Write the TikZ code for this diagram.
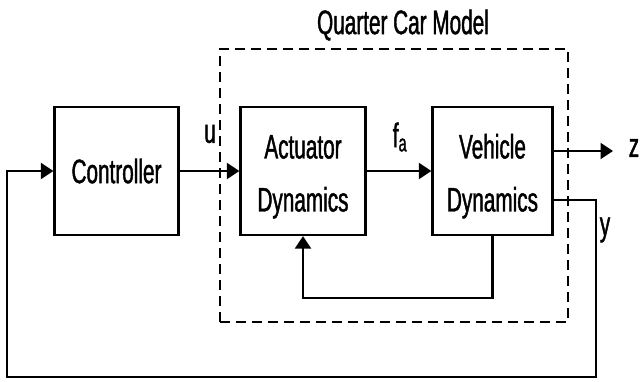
\documentclass[tikz,border=0pt]{standalone}
\usepackage{fontspec}
\setmainfont{Liberation Sans}[FakeStretch=0.61,FakeBold=1.2]
\usetikzlibrary{arrows.meta}
\begin{document}
\begin{tikzpicture}[x=1pt,y=-1pt,
  every node/.style={font=\fontsize{34}{38}\selectfont},
  blockbox/.style={draw,line width=2.2pt,minimum width=#1,minimum height=128pt,align=center,inner sep=0pt},
  qcmbox/.style={draw,dashed,dash pattern=on 10pt off 6pt,line width=1.6pt,minimum width=348pt,minimum height=273pt,inner sep=0pt},
  wire/.style={line width=2.2pt},
  arr/.style={wire,-{Triangle[length=12.5pt,width=16pt]}}]
\useasboundingbox (0,0) rectangle (641,381);
\node[qcmbox] (qcm) at (394,185.5) {};
\node (qtitle) at (403,25) {Quarter Car Model};
\node[blockbox=124pt] (ctrl) at (116.5,171) {Controller};
\node[blockbox=125pt] (act) at (303,171) {\rule{0pt}{35pt}Actuator\\[15pt]Dynamics};
\node[blockbox=120pt] (veh) at (492.5,171) {\rule{0pt}{35pt}Vehicle\\[15pt]Dynamics};
\draw[arr] (ctrl) -- (act);
\draw[arr] (act) -- (veh);
\node (ulab) at (210,134) {u};
\node (falab) at (400,137) {f\textsubscript{a}};
\coordinate (zend) at (613,151);
\draw[arr] (veh.east |- zend) -- (zend);
\node (zlab) at (634,148) {z};
\coordinate (ycorner) at (596,200);
\coordinate (fbl) at (7,377);
\draw[arr] (veh.east |- ycorner) -- (ycorner) |- (fbl) |- (ctrl.west);
\node (ylab) at (605,230) {y};
\coordinate (ib) at (494,298);
\draw[arr] (veh.south) -- (veh.south |- ib) -| (act.south);
\end{tikzpicture}
\end{document}
